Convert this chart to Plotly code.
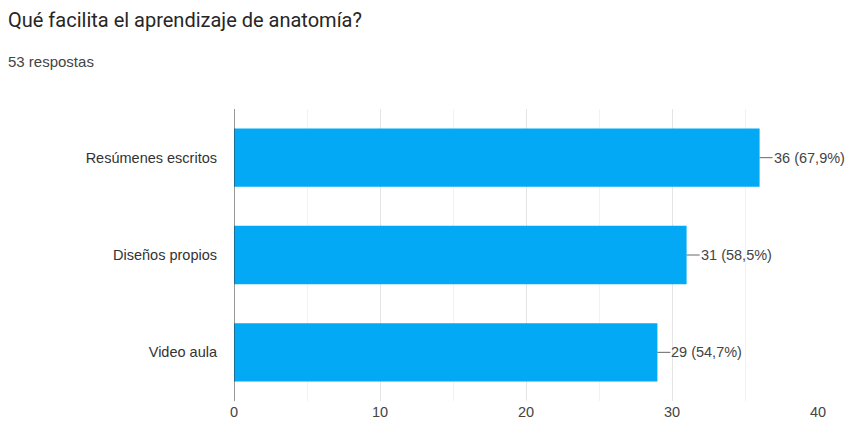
import plotly.graph_objects as go

categories = ["Resúmenes escritos", "Diseños propios", "Video aula"]
counts = [36, 31, 29]
labels = ["36 (67,9%)", "31 (58,5%)", "29 (54,7%)"]
x_ticks = [0, 10, 20, 30, 40]

BAR = "#03A9F4"
FONT = "Arial, 'Liberation Sans', sans-serif"
TFONT = "Roboto, Arial, sans-serif"

fig = go.Figure(go.Bar(
    y=categories, x=counts, orientation="h",
    marker=dict(color=BAR, line=dict(width=0)),
    width=0.6, hoverinfo="skip",
))

W, H = 846, 426
ml, mr, mt, mb = 234, 28, 109, 25

shapes = []
annotations = []
for cat, v, lab in zip(categories, counts, labels):
    shapes.append(dict(type="line", xref="x", yref="y", xsizemode="pixel", xanchor=v,
                       x0=0, x1=13, y0=cat, y1=cat,
                       line=dict(color="#666666", width=1)))
    annotations.append(dict(x=v, y=cat, xref="x", yref="y", text=lab, showarrow=False,
                            xanchor="left", yanchor="middle", xshift=12,
                            font=dict(family=FONT, size=14.5, color="#444444")))

pw = W - ml - mr
ph = H - mt - mb


def px2paper(px, py):
    return (px - ml) / pw, 1 - (py - mt) / ph


tx, ty = px2paper(6, 20)
annotations.append(dict(x=tx, y=ty, xref="paper", yref="paper", xanchor="left", yanchor="middle",
                        text="Qué facilita el aprendizaje de anatomía?", showarrow=False,
                        font=dict(family=TFONT, size=20, color="#262626")))
sx, sy = px2paper(6, 62)
annotations.append(dict(x=sx, y=sy, xref="paper", yref="paper", xanchor="left", yanchor="middle",
                        text="53 respostas", showarrow=False,
                        font=dict(family=FONT, size=15, color="#444444")))

fig.update_layout(
    width=W, height=H,
    margin=dict(l=ml, r=mr, t=mt, b=mb, autoexpand=False),
    paper_bgcolor="white", plot_bgcolor="white",
    showlegend=False,
    bargap=0.4,
    shapes=shapes,
    annotations=annotations,
    xaxis=dict(range=[0, 40], tickvals=x_ticks, ticktext=[str(t) for t in x_ticks],
               showgrid=True, gridcolor="#e4e4e4", gridwidth=1,
               minor=dict(dtick=5, showgrid=True, gridcolor="#f2f2f2"),
               zeroline=False, showline=False, ticks="", automargin=False,
               tickfont=dict(family=FONT, size=14.5, color="#444444"), fixedrange=True),
    yaxis=dict(categoryorder="array", categoryarray=categories[::-1],
               showgrid=False, zeroline=False, showline=False, ticks="", ticklabelstandoff=16,
               automargin=False,
               tickfont=dict(family=FONT, size=14.5, color="#333333"), fixedrange=True),
)
fig.add_shape(type="line", xref="x", yref="paper", x0=0, x1=0, y0=0, y1=1,
              line=dict(color="#333333", width=1))

fig.write_html("out.html", config={"displayModeBar": False},
               post_script="document.body.style.margin='0';document.body.style.overflow='hidden';")
